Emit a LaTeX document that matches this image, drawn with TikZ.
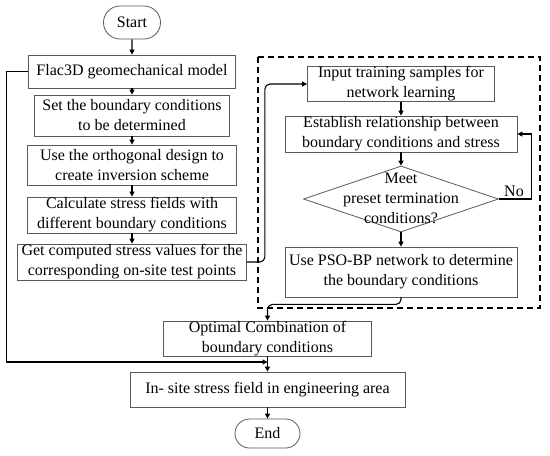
\documentclass[tikz,border=0pt]{standalone}
\usepackage{fontspec}
\setmainfont{Liberation Serif}
\usetikzlibrary{arrows.meta,shapes.geometric,shapes.misc}
\tikzset{
  box/.style={draw=black!65, line width=0.8pt, rectangle, inner sep=0pt, align=center, font=\fontsize{16}{20}\selectfont},
  term/.style={draw=black!65, line width=0.8pt, rounded rectangle, inner sep=0pt, align=center, font=\fontsize{16}{20}\selectfont},
  txt/.style={inner sep=0pt, align=center, font=\fontsize{16}{20}\selectfont},
  arr/.style={-{Triangle[length=5pt,width=5pt]}, line width=1.1pt, black},
  dashbox/.style={dashed, dash pattern=on 6pt off 4pt, line width=1.2pt, black}
}
\begin{document}
\begin{tikzpicture}[x=1pt,y=-1pt]
\useasboundingbox (0,0) rectangle (550,456);
% left column
\node[term, minimum width=57pt, minimum height=33pt] (start) at (132,22.5) {Start};
\node[box, minimum width=207pt, minimum height=33pt] (flac) at (132,71.5) {Flac3D geomechanical model};
\node[box, minimum width=195pt, minimum height=41pt] (set) at (132,115.5) {Set the boundary conditions\\to be determined};
\node[box, minimum width=209pt, minimum height=40pt] (use) at (132,165) {Use the orthogonal design to\\create inversion scheme};
\node[box, minimum width=209pt, minimum height=36pt] (calc) at (132,215) {Calculate stress fields with\\different boundary conditions};
\node[box, minimum width=229pt, minimum height=36pt] (get) at (132,262) {Get computed stress values for the\\corresponding on-site test points};
% dashed group
\draw[dashbox] (258,57) rectangle (540,308);
% right column
\node[box, minimum width=187pt, minimum height=34pt] (input) at (401,84) {Input training samples for\\network learning};
\node[box, minimum width=232pt, minimum height=36pt] (est) at (401,134) {Establish relationship between\\boundary conditions and stress};
\node[diamond, draw=black!65, line width=0.8pt, minimum width=195pt, minimum height=66pt, inner sep=0pt] (dec) at (401,199) {};
\node[txt] (dectext) at (401,198) {Meet\\preset termination\\conditions?};
\node[box, minimum width=232pt, minimum height=50pt] (pso) at (401,272) {Use PSO-BP network to determine\\the boundary conditions};
\node[txt] (no) at (514,191) {No};
% bottom column
\node[box, minimum width=208pt, minimum height=35pt] (opt) at (267.5,338.5) {Optimal Combination of\\boundary conditions};
\node[box, minimum width=275pt, minimum height=35pt] (site) at (267.5,389.5) {In- site stress field in engineering area};
\node[term, minimum width=65pt, minimum height=29pt] (end) at (267.5,433.5) {End};
\coordinate (j) at (267.5,362);
% connectors
\draw[arr] (start) -- (flac);
\draw[arr] (flac) -- (set);
\draw[arr] (set) -- (use);
\draw[arr] (use) -- (calc);
\draw[arr] (calc) -- (get);
\draw[arr, rounded corners=5pt] (get.east) -- ++(18,0) |- (input.west);
\draw[arr] (input) -- (est);
\draw[arr] (est) -- (dec);
\draw[arr] (dec) -- (pso);
\draw[arr] (dec.east) -- ++(33,0) |- (est.east);
\draw[arr, rounded corners=5pt] (pso.south) -- ++(0,7) -| (opt.north);
\draw[arr] (opt) -- (site);
\draw[arr] (flac.west) -- ++(-21.5,0) |- (j);
\draw[arr] (site) -- (end);
\end{tikzpicture}
\end{document}
